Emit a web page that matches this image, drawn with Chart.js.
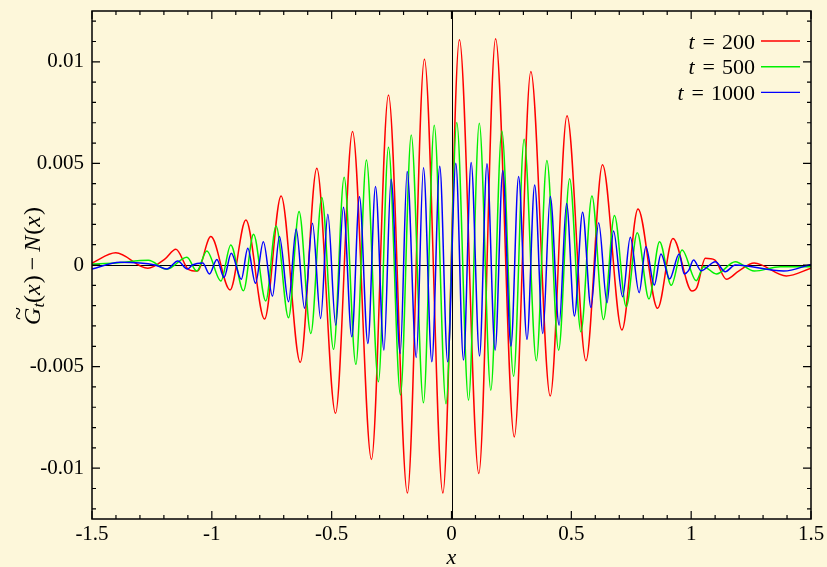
<!DOCTYPE html>
<html>
<head>
<meta charset="utf-8">
<script src="https://cdn.jsdelivr.net/npm/chart.js@4.4.1/dist/chart.umd.min.js"></script>
<style>
  html, body { margin: 0; padding: 0; background: #fdf7da; }
  #wrap { width: 827px; height: 567px; }
</style>
</head>
<body>
<div id="wrap"><canvas id="chart" width="827" height="567"></canvas></div>
<script>
// ============================================================
//  DONNÉES — extrema des courbes G~t(x) - N(x)
// ============================================================
const redX = [-1.5, -1.401, -1.267, -1.195, -1.150, -1.098, -1.061, -1.004, -0.924, -0.858, -0.780, -0.711,
  -0.631, -0.562, -0.484, -0.413, -0.334, -0.263, -0.184, -0.113, -0.036, 0.033, 0.114, 0.184, 0.262, 0.331,
  0.412, 0.482, 0.561, 0.630, 0.711, 0.778, 0.860, 0.924, 1.003, 1.024, 1.059, 1.098, 1.147, 1.198, 1.263,
  1.397, 1.5];
const redY = [0.0001, 0.0006, -0.00016, 0.0003, 0.00077, -0.00021, -0.0003, 0.0014, -0.00123, 0.00222, -0.00266, 0.0034,
  -0.00479, 0.00476, -0.0073, 0.00657, -0.00957, 0.00837, -0.01122, 0.01013, -0.01122, 0.01108, -0.01026, 0.01113, -0.00846, 0.00952,
  -0.00645, 0.00734, -0.00471, 0.00493, -0.0032, 0.00276, -0.00213, 0.00131, -0.00128, -0.0011, 0.00033, 0.00025, -0.0007, -0.0003, 0.0001,
  -0.00054, -0.00016];

const greenX = [-1.5, -1.40, -1.265, -1.188, -1.104, -1.063, -1.021, -0.962, -0.921, -0.868, -0.826, -0.775,
  -0.732, -0.680, -0.636, -0.587, -0.541, -0.492, -0.448, -0.399, -0.355, -0.305, -0.263, -0.213, -0.168,
  -0.117, -0.072, -0.023, 0.022, 0.071, 0.116, 0.164, 0.210, 0.259, 0.303, 0.354, 0.398, 0.447, 0.493,
  0.540, 0.586, 0.634, 0.680, 0.729, 0.775, 0.824, 0.868, 0.917, 0.962, 1.021, 1.052, 1.105, 1.184, 1.263,
  1.372, 1.5];
const greenY = [0.00005, 0.0001, 0.00023, -0.00021, 0.00038, -0.0003, 0.00069, -0.00079, 0.00099, -0.00127, 0.00151, -0.00177,
  0.00192, -0.0026, 0.00263, -0.00337, 0.00332, -0.00415, 0.00432, -0.00489, 0.00517, -0.00575, 0.0058, -0.0064, 0.0064,
  -0.00678, 0.00688, -0.00683, 0.00701, -0.00665, 0.00698, -0.00616, 0.0066, -0.00547, 0.00619, -0.00471, 0.00514, -0.00419, 0.00425,
  -0.00329, 0.0034, -0.00268, 0.00243, -0.00205, 0.00159, -0.00167, 0.00115, -0.001, 0.00074, -0.00077, -0.00008, -0.00044, 0.00016, -0.0003,
  -0.00008, -0.00008];

const blueX = [-1.5, -1.383, -1.237, -1.188, -1.142, -1.102, -1.081, -1.038, -1.010, -0.979, -0.949, -0.919,
  -0.877, -0.850, -0.818, -0.785, -0.747, -0.718, -0.680, -0.648, -0.613, -0.580, -0.546, -0.516, -0.483,
  -0.451, -0.416, -0.384, -0.349, -0.317, -0.282, -0.252, -0.214, -0.185, -0.147, -0.117, -0.082, -0.049,
  -0.016, 0.018, 0.050, 0.082, 0.117, 0.148, 0.182, 0.214, 0.248, 0.280, 0.315, 0.347, 0.381, 0.412, 0.449,
  0.480, 0.513, 0.547, 0.582, 0.614, 0.649, 0.676, 0.714, 0.746, 0.783, 0.811, 0.846, 0.874, 0.910, 0.950,
  0.971, 0.989, 1.010, 1.041, 1.101, 1.142, 1.184, 1.386, 1.5];
const blueY = [-0.0002, 0.00013, 0, -0.0002, 0.0002, -0.0002, 0, 0.0001, -0.00044, 0.00027, -0.00061, 0.00058,
  -0.0007, 0.00082, -0.0009, 0.00115, -0.00153, 0.0014, -0.00181, 0.00177, -0.00213, 0.00205, -0.00263, 0.0025, -0.00296,
  0.00284, -0.00353, 0.00336, -0.00386, 0.00386, -0.00419, 0.00422, -0.00435, 0.0046, -0.00455, 0.00479, -0.00476, 0.00486,
  -0.00476, 0.00501, -0.00468, 0.00504, -0.00448, 0.00498, -0.00419, 0.00465, -0.00399, 0.00435, -0.00366, 0.00394, -0.00337, 0.00337, -0.00296,
  0.00303, -0.00251, 0.0026, -0.00209, 0.00208, -0.00186, 0.00167, -0.00156, 0.00136, -0.00136, 0.0009, -0.00099, 0.00054, -0.00069, 0.00054,
  -0.00044, -0.00028, 0.00025, -0.00028, 0.00016, -0.00033, 0, -0.0003, 0.00003];

const seriesTimes  = [200, 500, 1000];
const seriesColors = ['#ff0000', '#00f000', '#0000ff'];

const xTickValues = [-1.5, -1, -0.5, 0, 0.5, 1, 1.5];
const xTickLabels = ['-1.5', '-1', '-0.5', '0', '0.5', '1', '1.5'];
const yTickValues = [-0.01, -0.005, 0, 0.005, 0.01];
const yTickLabels = ['-0.01', '-0.005', '0', '0.005', '0.01'];

// ============================================================
//  STYLES
// ============================================================
const SERIF = "'Liberation Serif', 'Times New Roman', serif";
const fontN = (s) => s + 'px ' + SERIF;
const fontI = (s) => 'italic ' + s + 'px ' + SERIF;

function toPoints(xs, ys) {
  return xs.map((x, i) => ({ x: x, y: ys[i] }));
}

// texte "riche" : morceaux avec leur police et décalage vertical
function drawRich(ctx, parts, x, y, align) {
  let total = 0;
  parts.forEach((p) => {
    ctx.font = p.font;
    p.w = ctx.measureText(p.text).width + (p.pad || 0);
    total += p.w;
  });
  let cx = align === 'right' ? x - total : (align === 'center' ? x - total / 2 : x);
  ctx.textAlign = 'left';
  ctx.textBaseline = 'alphabetic';
  parts.forEach((p) => {
    ctx.font = p.font;
    ctx.fillText(p.text, cx, y + (p.dy || 0));
    if (p.after) p.after(cx);
    cx += p.w;
  });
}

// ============================================================
//  CADRE, GRADUATIONS, LÉGENDE, TITRE Y
// ============================================================
const framePlugin = {
  id: 'frame',
  beforeDatasetsDraw(chart) {
    const { ctx, chartArea: a, scales: { x, y } } = chart;
    const x0 = Math.round(x.getPixelForValue(0)) + 0.5;
    const y0 = Math.round(y.getPixelForValue(0)) + 0.5;
    ctx.save();
    ctx.strokeStyle = '#000';
    ctx.lineWidth = 1;
    ctx.beginPath();
    ctx.moveTo(a.left, y0); ctx.lineTo(a.right, y0);
    ctx.moveTo(x0, a.top);  ctx.lineTo(x0, a.bottom);
    ctx.stroke();
    ctx.restore();
  },
  afterDraw(chart) {
    const { ctx, chartArea: a, scales: { x, y } } = chart;
    ctx.save();
    ctx.strokeStyle = '#000';
    ctx.lineWidth = 1.5;
    ctx.strokeRect(a.left, a.top, a.right - a.left, a.bottom - a.top);

    // graduations vers l'intérieur, sur les 4 côtés
    ctx.lineWidth = 1.2;
    ctx.beginPath();
    for (let i = -15; i <= 15; i++) {
      const px = x.getPixelForValue(i / 10);
      const len = i % 5 === 0 ? 8 : 4;
      ctx.moveTo(px, a.bottom); ctx.lineTo(px, a.bottom - len);
      ctx.moveTo(px, a.top);    ctx.lineTo(px, a.top + len);
    }
    for (let i = -12; i <= 12; i++) {
      const py = y.getPixelForValue(i / 1000);
      const len = i % 5 === 0 ? 8 : 4;
      ctx.moveTo(a.left, py);  ctx.lineTo(a.left + len, py);
      ctx.moveTo(a.right, py); ctx.lineTo(a.right - len, py);
    }
    ctx.stroke();

    // légende
    ctx.fillStyle = '#000';
    seriesTimes.forEach((t, i) => {
      const ly = 41 + i * 25.7;
      drawRich(ctx, [
        { text: 't', font: fontI(22), pad: 8 },
        { text: '=', font: fontN(22), pad: 7 },
        { text: String(t), font: fontN(22) }
      ], 755, ly + 7.5, 'right');
      ctx.strokeStyle = seriesColors[i];
      ctx.lineWidth = 1.4;
      ctx.beginPath();
      ctx.moveTo(761, ly); ctx.lineTo(800, ly);
      ctx.stroke();
    });

    // titre de l'axe Y : G~_t(x) − N(x)
    ctx.translate(40, 266);
    ctx.rotate(-Math.PI / 2);
    ctx.fillStyle = '#000';
    drawRich(ctx, [
      { text: 'G', font: fontI(24), after: (gx) => {
          ctx.font = fontN(24);
          ctx.fillText('~', gx + 5, -14);
        } },
      { text: 't', font: fontI(17), dy: 4 },
      { text: '(', font: fontN(24) },
      { text: 'x', font: fontI(24), pad: 1 },
      { text: ')', font: fontN(24), pad: 5 },
      { text: '\u2212', font: fontN(24), pad: 5 },
      { text: 'N', font: fontI(24), pad: 1 },
      { text: '(', font: fontN(24) },
      { text: 'x', font: fontI(24), pad: 1 },
      { text: ')', font: fontN(24) }
    ], 0, 0, 'center');
    ctx.restore();
  }
};

// ============================================================
//  GRAPHIQUE
// ============================================================
const lineStyle = {
  borderWidth: 1.5,
  pointRadius: 0,
  fill: false,
  cubicInterpolationMode: 'monotone'
};

new Chart(document.getElementById('chart').getContext('2d'), {
  type: 'line',
  data: {
    datasets: [
      { ...lineStyle, label: 't = 200',  data: toPoints(redX, redY),     borderColor: seriesColors[0], order: 3 },
      { ...lineStyle, label: 't = 500',  data: toPoints(greenX, greenY), borderColor: seriesColors[1], order: 2 },
      { ...lineStyle, label: 't = 1000', data: toPoints(blueX, blueY),   borderColor: seriesColors[2], order: 1 }
    ]
  },
  options: {
    responsive: false,
    animation: false,
    layout: { padding: { top: 11, right: 16, left: 0, bottom: 0 } },
    plugins: {
      legend: { display: false },
      tooltip: { enabled: false }
    },
    scales: {
      x: {
        type: 'linear',
        min: -1.5, max: 1.5,
        afterBuildTicks: (s) => { s.ticks = xTickValues.map((v) => ({ value: v })); },
        afterFit: (s) => { s.height = 48; s.paddingLeft = 0; s.paddingRight = 0; },
        ticks: {
          callback: (v, i) => xTickLabels[i],
          font: { family: SERIF, size: 21 },
          color: '#000',
          padding: 3,
          maxRotation: 0,
          autoSkip: false
        },
        grid: { display: false, drawTicks: false },
        border: { display: false },
        title: {
          display: true,
          text: 'x',
          font: { family: SERIF, size: 22, style: 'italic' },
          color: '#000',
          padding: { top: 0, bottom: -4 }
        }
      },
      y: {
        type: 'linear',
        min: -0.0125, max: 0.0125,
        afterBuildTicks: (s) => { s.ticks = yTickValues.map((v) => ({ value: v })); },
        afterFit: (s) => { s.width = 92; s.paddingTop = 0; s.paddingBottom = 0; },
        ticks: {
          callback: (v, i) => yTickLabels[i],
          font: { family: SERIF, size: 21 },
          color: '#000',
          padding: 8
        },
        grid: { display: false, drawTicks: false },
        border: { display: false }
      }
    }
  },
  plugins: [framePlugin]
});
</script>
</body>
</html>
